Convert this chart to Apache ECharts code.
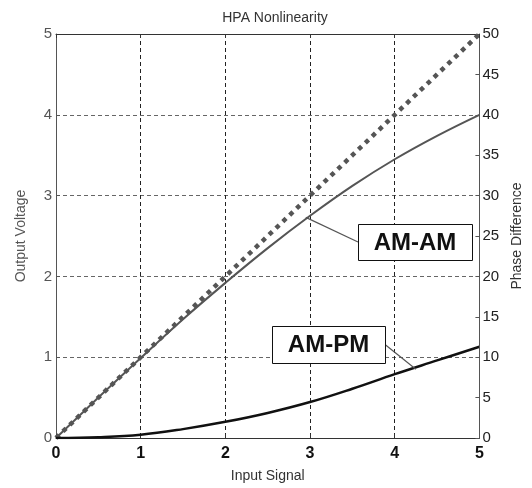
<!DOCTYPE html>
<html>
<head>
<meta charset="utf-8">
<script src="https://cdn.jsdelivr.net/npm/echarts@6/dist/echarts.min.js"></script>
<style>
  html, body { margin: 0; padding: 0; background: #fff; }
  #chart { width: 532px; height: 488px; }
</style>
</head>
<body>
<div id="chart"></div>
<script>
// Input signal samples
const inputSignal = [0, 0.5, 1, 1.5, 2, 2.5, 3, 3.5, 4, 4.5, 5];
// Ideal linear response (output = input)
const linearOut = [0, 0.5, 1, 1.5, 2, 2.5, 3, 3.5, 4, 4.5, 5];
// AM-AM: output voltage of the amplifier
const amamOut = [0, 0.5, 0.99, 1.47, 1.92, 2.35, 2.75, 3.12, 3.45, 3.74, 4.0];
// AM-PM: phase difference (right axis)
const ampmPhase = [0, 0.1, 0.4, 1.1, 2.0, 3.1, 4.45, 6.1, 7.9, 9.6, 11.3];
// Tick labels
const xTicks = [0, 1, 2, 3, 4, 5];
const voltTicks = [0, 1, 2, 3, 4, 5];
const phaseTicks = [0, 5, 10, 15, 20, 25, 30, 35, 40, 45, 50];
// Points on the curves where the callout lines attach
const amamAnchor = [2.95, 2.73];
const ampmAnchor = [4.25, 8.5];

const FONT = "'Liberation Sans', Arial, sans-serif";
const pairs = (xs, ys) => xs.map((x, i) => [x, ys[i]]);

const chart = echarts.init(document.getElementById('chart'), null, { renderer: 'canvas' });

const gridDash = { type: [4, 3], width: 1 };

const option = {
  animation: false,
  backgroundColor: '#fff',
  title: {
    text: 'HPA Nonlinearity',
    left: 270,
    top: 6,
    textAlign: 'center',
    textStyle: { fontFamily: FONT, fontSize: 14, fontWeight: 'normal', color: '#333' }
  },
  grid: { left: 56, right: 48, top: 34, bottom: 47, show: false },
  xAxis: [
    {
      type: 'value', min: xTicks[0], max: xTicks[xTicks.length - 1], interval: 1,
      position: 'bottom',
      name: 'Input Signal', nameLocation: 'middle', nameGap: 31,
      nameTextStyle: { fontFamily: FONT, fontSize: 14, color: '#333' },
      axisLine: { show: true, lineStyle: { color: '#333', width: 1 } },
      axisTick: { show: true, inside: true, length: 4, lineStyle: { color: '#333' } },
      axisLabel: { fontFamily: FONT, fontSize: 16, color: '#111', margin: 8, fontWeight: 'bold' },
      splitLine: {
        show: true, showMinLine: false, showMaxLine: false,
        lineStyle: Object.assign({ color: '#222' }, gridDash)
      }
    },
    {
      type: 'value', min: xTicks[0], max: xTicks[xTicks.length - 1], interval: 1,
      position: 'top',
      axisLine: { show: true, onZero: false, lineStyle: { color: '#333', width: 1 } },
      axisTick: { show: true, inside: true, length: 4, lineStyle: { color: '#333' } },
      axisLabel: { show: false },
      splitLine: { show: false },
      z: 5
    }
  ],
  yAxis: [
    {
      type: 'value', min: voltTicks[0], max: voltTicks[voltTicks.length - 1], interval: 1,
      position: 'left',
      name: 'Output Voltage', nameLocation: 'middle', nameGap: 28,
      nameTextStyle: { fontFamily: FONT, fontSize: 14, color: '#555' },
      axisLine: { show: true, onZero: false, lineStyle: { color: '#555', width: 1 } },
      axisTick: { show: true, inside: true, length: 4, lineStyle: { color: '#555' } },
      axisLabel: { fontFamily: FONT, fontSize: 15, color: '#555', margin: 4 },
      splitLine: {
        show: true, showMinLine: true, showMaxLine: false,
        lineStyle: Object.assign({ color: '#666' }, gridDash)
      }
    },
    {
      type: 'value', min: phaseTicks[0], max: phaseTicks[phaseTicks.length - 1], interval: 5,
      position: 'right',
      name: 'Phase Difference', nameLocation: 'middle', nameGap: 28,
      nameTextStyle: { fontFamily: FONT, fontSize: 14, color: '#333' },
      axisLine: { show: true, onZero: false, lineStyle: { color: '#555', width: 1 } },
      axisTick: { show: true, inside: true, length: 4, lineStyle: { color: '#555' } },
      axisLabel: { fontFamily: FONT, fontSize: 15, color: '#222', margin: 3 },
      splitLine: { show: false },
      z: 5
    }
  ],
  series: [
    {
      name: 'Linear', type: 'line', xAxisIndex: 0, yAxisIndex: 0,
      data: pairs(inputSignal, linearOut), showSymbol: false, z: 3,
      lineStyle: { color: '#555', width: 4.5, type: [4.5, 5], cap: 'butt' }
    },
    {
      name: 'AM-AM', type: 'line', xAxisIndex: 0, yAxisIndex: 0,
      data: pairs(inputSignal, amamOut), showSymbol: false, smooth: 0.4, z: 4,
      lineStyle: { color: '#555', width: 2 }
    },
    {
      name: 'AM-PM', type: 'line', xAxisIndex: 0, yAxisIndex: 1,
      data: pairs(inputSignal, ampmPhase), showSymbol: false, smooth: 0.4, z: 4,
      lineStyle: { color: '#111', width: 2.5 }
    }
  ]
};

chart.setOption(option);

// Callout boxes with leader lines to the curves
function callout(label, box, anchorPx, fromRight) {
  const midY = box.y + box.h / 2;
  const startX = fromRight ? box.x + box.w : box.x;
  return [
    {
      type: 'line', z: 10,
      shape: { x1: startX, y1: midY, x2: anchorPx[0], y2: anchorPx[1] },
      style: { stroke: '#555', lineWidth: 1.2 }
    },
    {
      type: 'rect', z: 11,
      shape: { x: box.x + 0.5, y: box.y + 0.5, width: box.w, height: box.h },
      style: { fill: '#fff', stroke: '#111', lineWidth: 1 }
    },
    {
      type: 'text', z: 12,
      x: box.x + box.w / 2, y: midY + 1,
      style: {
        text: label, fill: '#111', font: 'bold 24px ' + FONT,
        align: 'center', verticalAlign: 'middle'
      }
    }
  ];
}

const amamPx = chart.convertToPixel({ xAxisIndex: 0, yAxisIndex: 0 }, amamAnchor);
const ampmPx = chart.convertToPixel({ xAxisIndex: 0, yAxisIndex: 1 }, ampmAnchor);

chart.setOption({
  graphic: [].concat(
    callout('AM-AM', { x: 358, y: 224, w: 114, h: 36 }, amamPx, false),
    callout('AM-PM', { x: 272, y: 326, w: 113, h: 37 }, ampmPx, true)
  )
});
</script>
</body>
</html>
